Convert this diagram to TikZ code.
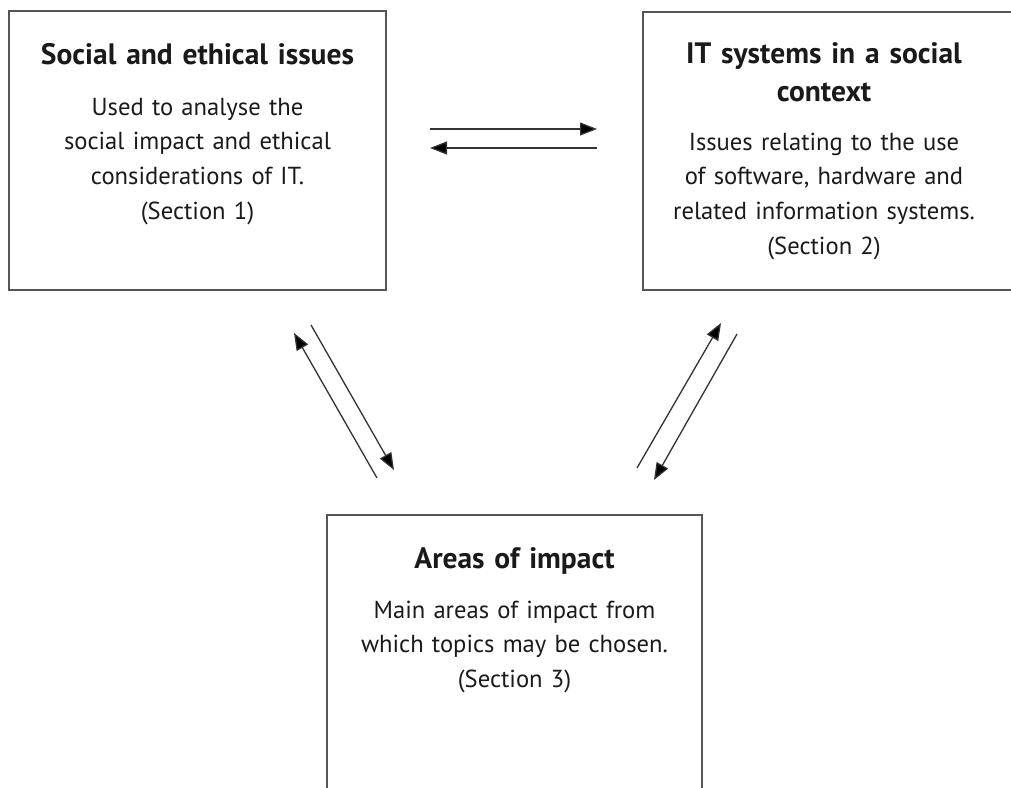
\documentclass[tikz,border=0pt]{standalone}
\usepackage{fontspec}
\setmainfont{PT Sans}
\usetikzlibrary{arrows.meta}
\definecolor{boxline}{HTML}{555555}
\definecolor{arrline}{HTML}{333333}
\definecolor{txt}{HTML}{1A1A1A}
\tikzset{
  box/.style={draw=boxline, line width=1.2pt, rectangle, inner sep=0pt},
  title/.style={font=\bfseries\fontsize{29.5}{38}\selectfont, text=txt, anchor=base, inner sep=0pt, text width=380pt, align=center},
  body/.style={font=\fontsize{24.6}{34.8}\selectfont, text=txt, anchor=base, inner sep=0pt, text width=380pt, align=center},
  link/.style={draw=arrline, line width=1.3pt, -{Triangle[length=17pt,width=13pt,fill=black]}}
}
\begin{document}
\begin{tikzpicture}[x=1pt,y=-1pt]
\clip (0,0) rectangle (1011,787);
\fill[white] (0,0) rectangle (1011,787);
% boxes
\node[box, minimum width=377pt, minimum height=279pt] (b1) at (197.5,150.5) {};
\node[box, minimum width=374pt, minimum height=278pt] (b2) at (830,151) {};
\node[box, minimum width=375pt, minimum height=300pt] (b3) at (514.5,665) {};
% texts
\node[title] (t1) at (197.5,64) {Social and ethical issues};
\node[body] (d1) at (197.5,115) {Used to analyse the\\ social impact and ethical\\ considerations of IT.\\ (Section 1)};
\node[title] (t2) at (824,63) {IT systems in a social\\ context};
\node[body] (d2) at (824,150) {Issues relating to the use\\ of software, hardware and\\ related information systems.\\ (Section 2)};
\node[title] (t3) at (514.5,568) {Areas of impact};
\node[body] (d3) at (514.5,618) {Main areas of impact from\\ which topics may be chosen.\\ (Section 3)};
% arrow endpoints
\coordinate (h1s) at (430,129);
\coordinate (h1e) at (597,129);
\coordinate (h2s) at (597,148);
\coordinate (h2e) at (430,148);
\coordinate (l1s) at (377,478);
\coordinate (l1e) at (294,333);
\coordinate (l2s) at (311,325);
\coordinate (l2e) at (394,470);
\coordinate (r1s) at (637,468);
\coordinate (r1e) at (721,323);
\coordinate (r2s) at (737,334);
\coordinate (r2e) at (654,480);
% connectors
\draw[link] (h1s) -- (h1e);
\draw[link] (h2s) -- (h2e);
\draw[link] (l1s) -- (l1e);
\draw[link] (l2s) -- (l2e);
\draw[link] (r1s) -- (r1e);
\draw[link] (r2s) -- (r2e);
\end{tikzpicture}
\end{document}
